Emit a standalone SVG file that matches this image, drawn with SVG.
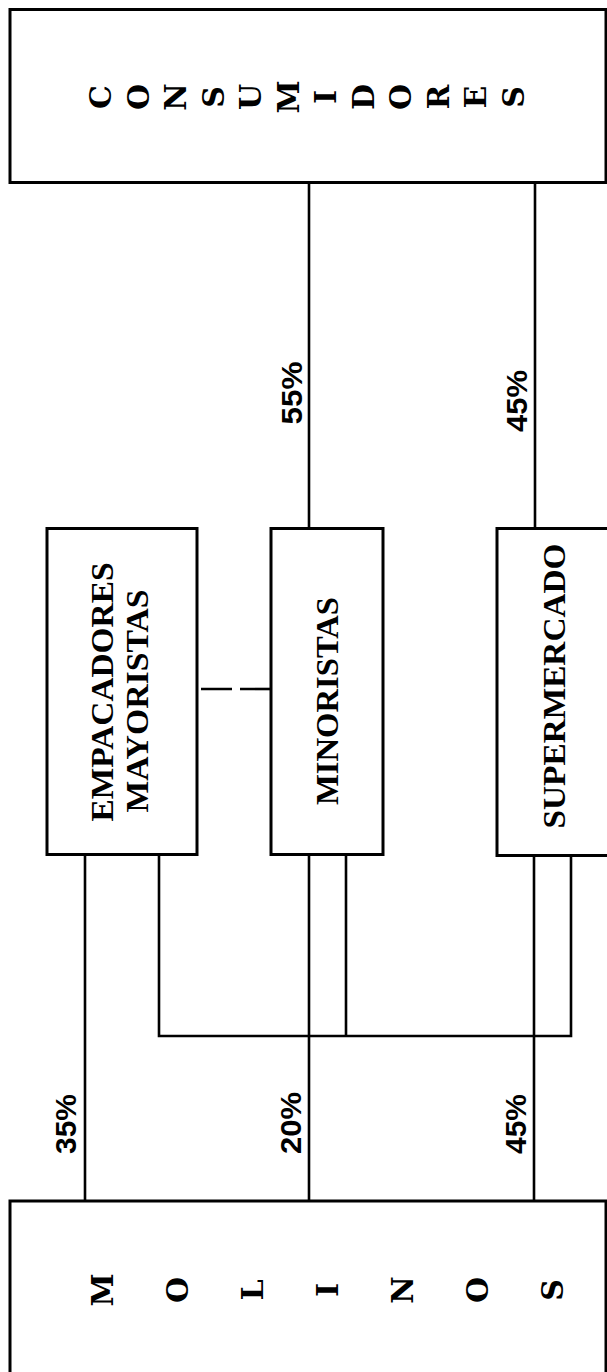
<svg xmlns="http://www.w3.org/2000/svg" width="607" height="1372" viewBox="0 0 607 1372">
<style>
.box{fill:#fff;stroke:#000;stroke-width:3}
.ln{fill:none;stroke:#000;stroke-width:2.6}
.big{font-family:"DejaVu Serif","Liberation Serif",serif;font-weight:bold;font-size:30px;fill:#000}
.lbl{font-family:"Liberation Serif","Times New Roman",serif;font-weight:bold;font-size:32px;fill:#000}
.pct{font-family:"Liberation Sans",Arial,sans-serif;font-weight:bold;font-size:30px;fill:#000}
</style>
<rect width="607" height="1372" fill="#fff"/>
<g id="connectors">
<path class="ln" d="M309 182 V528"/>
<path class="ln" d="M535 182 V528"/>
<path class="ln" d="M85 855 V1201"/>
<path class="ln" d="M309 855 V1201"/>
<path class="ln" d="M534 856 V1201"/>
<path class="ln" d="M159 855 V1036 H571 V856"/>
<path class="ln" d="M346 855 V1036"/>
<path class="ln" d="M201 689 H271" stroke-dasharray="31 8"/>
<g text-anchor="middle" transform="rotate(-90)">
<text class="pct" x="-393" y="302" textLength="63" lengthAdjust="spacingAndGlyphs">55%</text>
<text class="pct" x="-401" y="527" textLength="62" lengthAdjust="spacingAndGlyphs">45%</text>
<text class="pct" x="-1124" y="76" textLength="60" lengthAdjust="spacingAndGlyphs">35%</text>
<text class="pct" x="-1123" y="301" textLength="62" lengthAdjust="spacingAndGlyphs">20%</text>
<text class="pct" x="-1124" y="526" textLength="60" lengthAdjust="spacingAndGlyphs">45%</text>
</g>
</g>
<g id="consumidores">
<rect class="box" x="10" y="9.5" width="596" height="173"/>
<text class="big" text-anchor="middle" transform="rotate(-90)"><tspan x="-97" y="111">C</tspan><tspan x="-97" y="148.5">O</tspan><tspan x="-97" y="186">N</tspan><tspan x="-97" y="223.5">S</tspan><tspan x="-97" y="261">U</tspan><tspan x="-97" y="298.5">M</tspan><tspan x="-97" y="336">I</tspan><tspan x="-97" y="373.5">D</tspan><tspan x="-97" y="411">O</tspan><tspan x="-97" y="448.5">R</tspan><tspan x="-97" y="486">E</tspan><tspan x="-97" y="523.5">S</tspan></text>
</g>
<g id="empacadores">
<rect class="box" x="47" y="528.5" width="150" height="326"/>
<text class="lbl" text-anchor="middle" transform="rotate(-90)"><tspan x="-692" y="113" textLength="259" lengthAdjust="spacingAndGlyphs">EMPACADORES</tspan><tspan x="-701" y="148" textLength="223" lengthAdjust="spacingAndGlyphs">MAYORISTAS</tspan></text>
</g>
<g id="minoristas">
<rect class="box" x="271" y="528.5" width="112" height="326"/>
<text class="lbl" text-anchor="middle" transform="rotate(-90)" x="-701" y="338" textLength="208" lengthAdjust="spacingAndGlyphs">MINORISTAS</text>
</g>
<g id="supermercado">
<rect class="box" x="497" y="528.5" width="116" height="327"/>
<text class="lbl" text-anchor="middle" transform="rotate(-90)" x="-686" y="565" textLength="285" lengthAdjust="spacingAndGlyphs">SUPERMERCADO</text>
</g>
<g id="molinos">
<rect class="box" x="10" y="1201" width="596" height="180"/>
<text class="big" text-anchor="middle" transform="rotate(-90)"><tspan x="-1290" y="113">M</tspan><tspan x="-1290" y="188">O</tspan><tspan x="-1290" y="263">L</tspan><tspan x="-1290" y="338">I</tspan><tspan x="-1290" y="413">N</tspan><tspan x="-1290" y="488">O</tspan><tspan x="-1290" y="563">S</tspan></text>
</g>
</svg>
